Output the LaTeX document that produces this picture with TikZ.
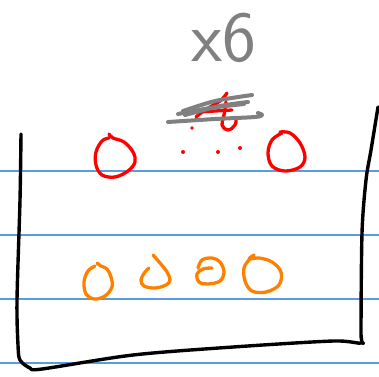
\documentclass[tikz,border=0pt]{standalone}
\begin{document}
\begin{tikzpicture}[x=1pt,y=-1pt,line cap=round,line join=round,
  ruled/.style={draw={rgb,255:red,90;green,155;blue,230},line width=1.2pt},
  frame/.style={draw=black,line width=3.4pt},
  redink/.style={draw={rgb,255:red,255;green,0;blue,0},line width=3.3pt},
  orangeink/.style={draw={rgb,255:red,255;green,128;blue,0},line width=3.3pt},
  grayink/.style={draw={rgb,255:red,128;green,128;blue,128},line width=4pt},
  reddot/.style={fill={rgb,255:red,255;green,0;blue,0}},
  marktext/.style={text={rgb,255:red,128;green,128;blue,128},font=\sffamily\fontsize{72}{72}\selectfont,inner sep=0pt}]
\useasboundingbox (0,0) rectangle (379,376);
% ruled lines
\foreach \yy in {171,235,299,363} \draw[ruled] (0,\yy) -- (379,\yy);
% label x6
\node[marktext,anchor=base] (label) at (224,61) {x6};
% black frame
\draw[frame] plot[smooth,tension=0.5] coordinates {(21,134) (20,200) (17,300) (18,345) (20,360) (30,368) (42,369) (133,355) (233,347) (333,341) (362,343) (361,333) (362,233) (366,180) (371,150) (378,107)};
% red scribble under gray
\draw[redink] plot[smooth,tension=0.6] coordinates {(227,93) (220,101) (205,110) (196,117)};
\draw[redink] plot[smooth,tension=0.6] coordinates {(198,112) (215,111) (232,110)};
\draw[redink] plot[smooth,tension=0.7] coordinates {(226,102) (224,115) (222,125) (228,130) (235,125) (236,118)};
\fill[reddot] (192,128) circle (1.8);
% gray strike-through
\draw[grayink] plot[smooth,tension=0.5] coordinates {(183,111) (215,101) (252,95)};
\draw[grayink] plot[smooth,tension=0.5] coordinates {(178,114) (210,108) (244,104)};
\draw[grayink] plot[smooth,tension=0.5] coordinates {(185,115) (220,106) (248,102)};
\draw[grayink] plot[smooth,tension=0.5] coordinates {(168,122) (215,119) (255,117) (262,115) (258,113)};
% red circles with dots
\draw[redink] plot[smooth,tension=0.6] coordinates {(109,134) (113,138) (124,142) (133,152) (135,162) (128,171) (115,177) (102,175) (96,165) (96,152) (102,141) (109,138)};
\fill[reddot] (183,152) circle (2);
\fill[reddot] (218,152) circle (2);
\fill[reddot] (240,148) circle (2);
\draw[redink] plot[smooth,tension=0.6] coordinates {(280,132) (290,133) (300,143) (305,157) (300,167) (285,171) (272,166) (268,153) (272,140) (282,133)};
% orange circles
\draw[orangeink] plot[smooth,tension=0.6] coordinates {(97,263) (101,266) (107,269) (111,277) (112,287) (105,296) (94,299) (86,294) (84,282) (88,271) (95,266)};
\draw[orangeink] plot[smooth,tension=0.6] coordinates {(153,255) (160,263) (167,272) (170,280) (166,285) (155,288) (144,286) (141,280) (145,272) (149,268)};
\draw[orangeink] plot[smooth,tension=0.6] coordinates {(198,268) (202,260) (212,258) (220,262) (224,272) (220,281) (208,284) (199,282) (197,274) (203,269) (212,268)};
\draw[orangeink] plot[smooth,tension=0.6] coordinates {(254,255) (249,259) (259,258) (272,262) (281,272) (279,285) (266,292) (252,291) (245,281) (244,268) (249,260)};
\end{tikzpicture}
\end{document}
